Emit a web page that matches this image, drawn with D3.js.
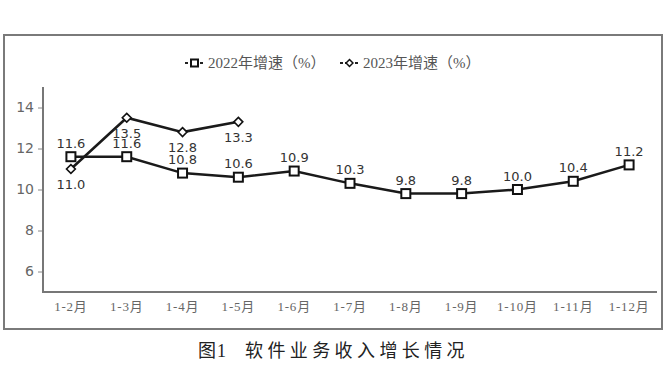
<!DOCTYPE html>
<html><head><meta charset="utf-8">
<script src="https://cdn.jsdelivr.net/npm/d3@7"></script>
<style>
html,body{margin:0;padding:0;background:#fff;}
svg{display:block;}
</style></head>
<body>
<svg id="c" width="667" height="379"></svg>
<script>
const categories = ["1-2月","1-3月","1-4月","1-5月","1-6月","1-7月","1-8月","1-9月","1-10月","1-11月","1-12月"];
const series2022 = [11.6, 11.6, 10.8, 10.6, 10.9, 10.3, 9.8, 9.8, 10.0, 10.4, 11.2];
const series2023 = [11.0, 13.5, 12.8, 13.3];
const yTicks = [6, 8, 10, 12, 14];
const legendLabels = ["2022年增速（%）", "2023年增速（%）"];
const titleText = ["图1", "软件业务收入增长情况"];

const svg = d3.select("#c");
const serif = "'Liberation Serif','Noto Sans CJK SC',serif";
const sans = "'DejaVu Sans',sans-serif";

// outer frame
svg.append("rect").attr("x",4).attr("y",35).attr("width",658).attr("height",294)
  .attr("fill","none").attr("stroke","#7a7a7a").attr("stroke-width",2);

const x = d3.scaleBand().domain(categories).range([43,657]).padding(0);
const y = d3.scaleLinear().domain([5,15]).range([292,87]);

// y axis
const yAxis = d3.axisLeft(y).tickValues(yTicks).tickSize(5).tickFormat(d3.format("d"));
const gy = svg.append("g").attr("transform","translate(43,0)").call(yAxis);
gy.select(".domain").remove();
gy.selectAll(".tick line").attr("stroke","#888").attr("stroke-width",1);
gy.selectAll(".tick text").attr("font-family",sans).attr("font-size",14).attr("fill","#666").attr("x",-9);
svg.append("line").attr("x1",43).attr("x2",43).attr("y1",y(15)).attr("y2",y(5)+1)
  .attr("stroke","#777").attr("stroke-width",2);

// x axis
const xAxis = d3.axisBottom(x).tickSize(0);
const gx = svg.append("g").attr("transform","translate(0,292)").call(xAxis);
gx.select(".domain").remove();
gx.selectAll(".tick text").attr("font-family",serif).attr("font-size",13).attr("fill","#666")
  .attr("letter-spacing","0.8px").attr("dy","0").attr("y",19);
svg.append("line").attr("x1",42).attr("x2",657).attr("y1",292).attr("y2",292)
  .attr("stroke","#777").attr("stroke-width",2);

const cx = (i) => x(categories[i]) + x.bandwidth()/2;
const line = d3.line().x((d,i)=>cx(i)).y(d=>y(d));

// 2022 series
svg.append("path").datum(series2022).attr("d",line).attr("fill","none")
  .attr("stroke","#1a1a1a").attr("stroke-width",2.5);
// 2023 series
svg.append("path").datum(series2023).attr("d",line).attr("fill","none")
  .attr("stroke","#1a1a1a").attr("stroke-width",2.5);

// 2022 markers
svg.selectAll("rect.m22").data(series2022).enter().append("rect").attr("class","m22")
  .attr("x",(d,i)=>cx(i)-4.5).attr("y",d=>y(d)-4.5).attr("width",9).attr("height",9)
  .attr("fill","#fff").attr("stroke","#111").attr("stroke-width",2);
// 2023 markers (diamonds)
const diamond = d3.symbol().type(d3.symbolDiamond2).size(50);
svg.selectAll("path.m23").data(series2023).enter().append("path").attr("class","m23")
  .attr("d",diamond).attr("transform",(d,i)=>`translate(${cx(i)},${y(d)})`)
  .attr("fill","#fff").attr("stroke","#111").attr("stroke-width",1.6);

// labels 2022 (above)
svg.selectAll("text.l22").data(series2022).enter().append("text").attr("class","l22")
  .attr("x",(d,i)=>cx(i)).attr("y",d=>y(d)-9)
  .attr("text-anchor","middle").attr("font-family",sans).attr("font-size",13).attr("fill","#333")
  .text(d=>d.toFixed(1));
// labels 2023 (below)
svg.selectAll("text.l23").data(series2023).enter().append("text").attr("class","l23")
  .attr("x",(d,i)=>cx(i)).attr("y",d=>y(d)+20)
  .attr("text-anchor","middle").attr("font-family",sans).attr("font-size",13).attr("fill","#333")
  .text(d=>d.toFixed(1));

// legend
const lg = svg.append("g");
const legItems = [{x0:185, tx:208}, {x0:340, tx:363}];
legItems.forEach((p,k)=>{
  lg.append("line").attr("x1",p.x0).attr("x2",p.x0+19).attr("y1",63).attr("y2",63)
    .attr("stroke","#222").attr("stroke-width",2).attr("stroke-dasharray","3,2");
  if(k===0){
    lg.append("rect").attr("x",p.x0+6).attr("y",59.5).attr("width",7).attr("height",7)
      .attr("fill","#fff").attr("stroke","#111").attr("stroke-width",2);
  } else {
    lg.append("path").attr("d",d3.symbol().type(d3.symbolDiamond2).size(30))
      .attr("transform",`translate(${p.x0+9.5},63)`)
      .attr("fill","#fff").attr("stroke","#111").attr("stroke-width",1.5);
  }
  lg.append("text").attr("x",p.tx).attr("y",68).attr("font-family",serif).attr("font-size",15)
    .attr("fill","#555").text(legendLabels[k]);
});

// title
svg.append("text").attr("x",198).attr("y",357).attr("font-family",serif).attr("font-size",18)
  .attr("fill","#222").attr("letter-spacing","1px").text(titleText[0]);
svg.append("text").attr("x",245).attr("y",357).attr("font-family",serif).attr("font-size",18)
  .attr("fill","#222").attr("letter-spacing","4.4px").text(titleText[1]);
</script>
</body></html>
